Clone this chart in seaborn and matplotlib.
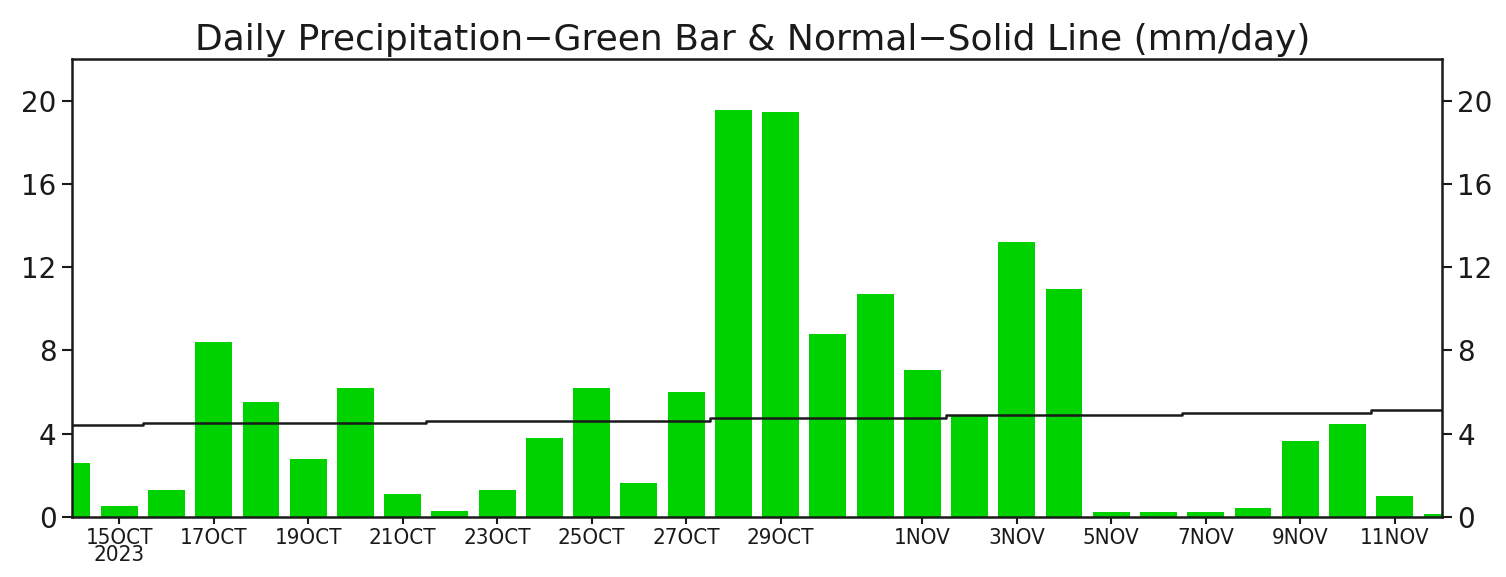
import matplotlib
matplotlib.use("Agg")
import matplotlib.pyplot as plt
import seaborn as sns
import pandas as pd
import numpy as np

# ---- data ----
days = ["14OCT", "15OCT", "16OCT", "17OCT", "18OCT", "19OCT", "20OCT", "21OCT",
        "22OCT", "23OCT", "24OCT", "25OCT", "26OCT", "27OCT", "28OCT", "29OCT",
        "30OCT", "31OCT", "1NOV", "2NOV", "3NOV", "4NOV", "5NOV", "6NOV",
        "7NOV", "8NOV", "9NOV", "10NOV", "11NOV", "12NOV"]
precip = [2.6, 0.5, 1.3, 8.4, 5.5, 2.8, 6.2, 1.1, 0.27, 1.3, 3.8, 6.2, 1.6, 6.0,
          19.55, 19.45, 8.8, 10.7, 7.05, 4.85, 13.2, 10.95, 0.24, 0.24, 0.24, 0.4,
          3.65, 4.45, 1.0, 0.15]
normal = [4.41, 4.41, 4.52, 4.52, 4.52, 4.52, 4.52, 4.52, 4.60, 4.60, 4.60, 4.60,
          4.60, 4.60, 4.73, 4.73, 4.73, 4.73, 4.73, 4.88, 4.88, 4.88, 4.88, 4.88,
          4.97, 4.97, 4.97, 4.97, 5.13, 5.13]
tick_days = ["15OCT", "17OCT", "19OCT", "21OCT", "23OCT", "25OCT", "27OCT", "29OCT",
             "1NOV", "3NOV", "5NOV", "7NOV", "9NOV", "11NOV"]
tick_labels = ["15OCT\n2023", "17OCT", "19OCT", "21OCT", "23OCT", "25OCT", "27OCT",
               "29OCT", "1NOV", "3NOV", "5NOV", "7NOV", "9NOV", "11NOV"]
y_ticks = [0, 4, 8, 12, 16, 20]
title = "Daily Precipitation\u2212Green Bar & Normal\u2212Solid Line (mm/day)"

sns.set_theme(style="white")
plt.rcParams["font.family"] = ["DejaVu Sans"]

df = pd.DataFrame({"day": days, "idx": np.arange(len(days)), "precip": precip, "normal": normal})

fig = plt.figure(figsize=(15.06, 5.77), dpi=100)
ax = fig.add_axes([0.0478, 0.1045, 0.9097, 0.7924])

sns.barplot(data=df, x="day", y="precip", order=days, color="#00d200",
            saturation=1, width=0.78, ax=ax, linewidth=0)
sns.lineplot(data=df, x="idx", y="normal", color="#1a1a1a", linewidth=1.8,
             drawstyle="steps-mid", ax=ax)

ax.set_xlim(0, len(days) - 1)
ax.set_ylim(0, 22)
ax.set_xlabel("")
ax.set_ylabel("")

ax.set_xticks([days.index(d) for d in tick_days])
ax.set_xticklabels(tick_labels, fontsize=16, fontstretch="condensed", linespacing=0.85)
ax.set_yticks(y_ticks)
ax.set_yticklabels([str(v) for v in y_ticks], fontsize=20)

ax.tick_params(axis="y", which="both", left=True, right=True, labelleft=True,
               labelright=True, direction="out", length=7, width=1.5, pad=4, colors="#1a1a1a")
ax.tick_params(axis="x", bottom=True, direction="out", length=5, width=1.5, pad=3,
               colors="#1a1a1a")
for s in ax.spines.values():
    s.set_visible(True)
    s.set_color("#1a1a1a")
    s.set_linewidth(1.8)
ax.grid(False)

fig.text(0.5, 0.93, title, ha="center", va="center", fontsize=26, color="#1a1a1a")

fig.savefig("out.png", dpi=100)
